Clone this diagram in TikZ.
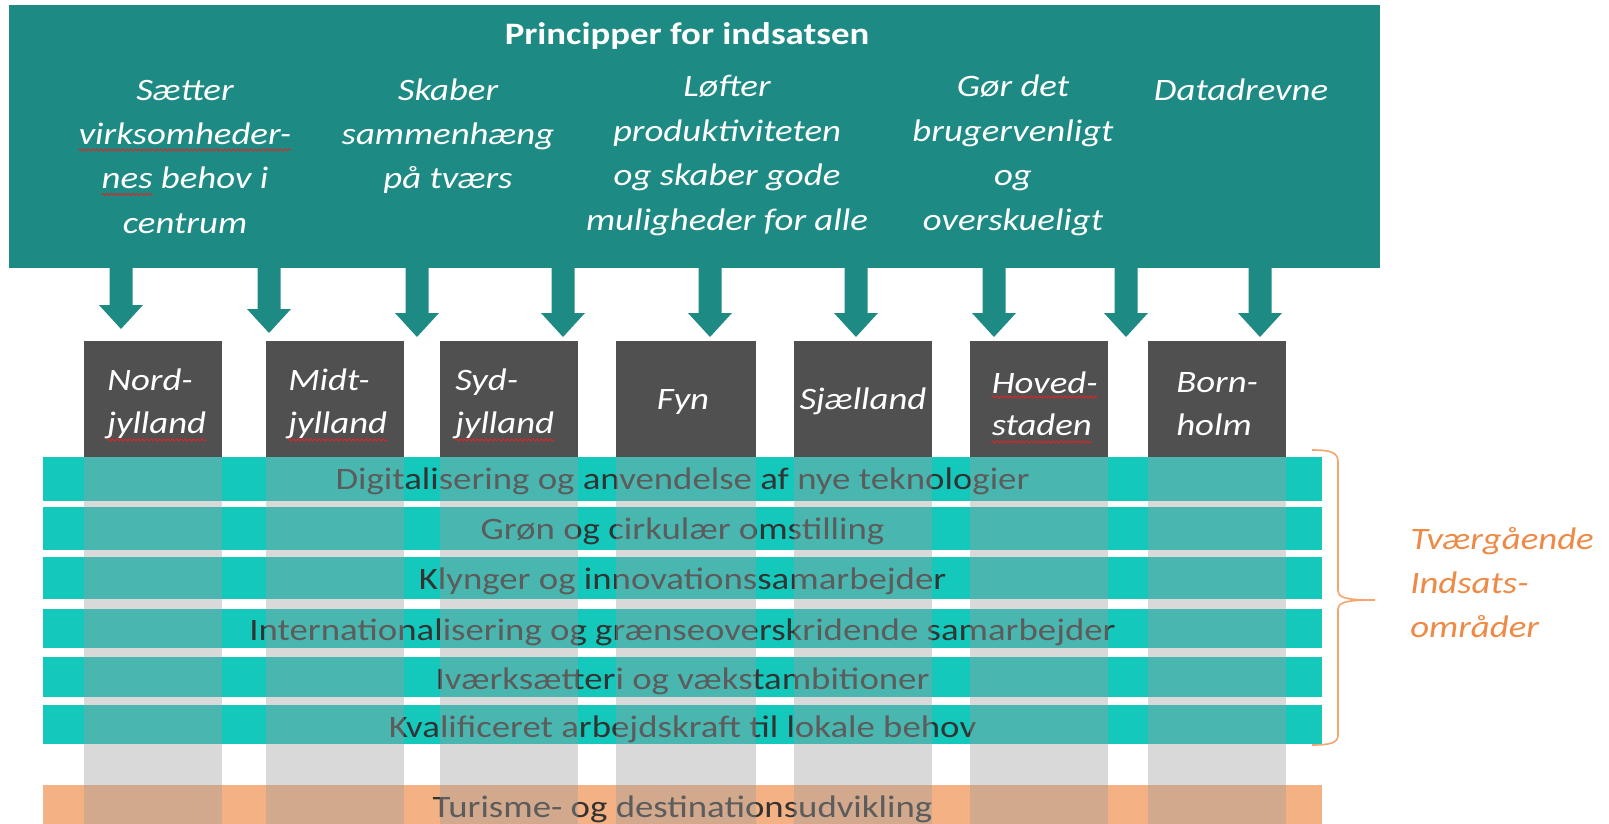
\documentclass[tikz,border=0pt]{standalone}
\usepackage{fontspec}
\setmainfont{Carlito}[FakeStretch=1.18]
\usetikzlibrary{decorations.pathmorphing}
\definecolor{topteal}{HTML}{1E8A84}
\definecolor{boxgray}{HTML}{505050}
\definecolor{bandteal}{HTML}{14C9BC}
\definecolor{bandorange}{HTML}{F4B183}
\definecolor{colgray}{HTML}{9D9D9D}
\definecolor{bandtext}{HTML}{333333}
\definecolor{braceorange}{HTML}{F5A56D}
\definecolor{labelorange}{HTML}{EE8A45}
\definecolor{squigred}{HTML}{E02424}
\newcommand\fsz{\fontsize{23.4pt}{33.4pt}\selectfont}
\tikzset{
  principle/.style={font=\fsz\itshape, text=white, inner sep=0pt, anchor=base},
  regionl/.style={font=\fsz\itshape, text=white, inner sep=0pt, anchor=base west},
  regionc/.style={font=\fsz\itshape, text=white, inner sep=0pt, anchor=base},
  bandtxt/.style={font=\fsz, text=bandtext, inner sep=0pt, anchor=base},
  labeltxt/.style={font=\fsz\itshape, text=labelorange, inner sep=0pt, anchor=base west},
  squig/.style={draw=squigred, line width=0.65pt, decorate, decoration={snake, amplitude=0.8pt, segment length=3.2pt}},
  blockarrow/.style={fill=topteal}
}
\begin{document}
\begin{tikzpicture}[x=0.75pt,y=-0.75pt]
\useasboundingbox (0,0) rectangle (1609,824);
% bands
\foreach \t/\bt in {457/501,507/550,557/599,609/648,657/697,705/744}
  \fill[bandteal] (43,\t) rectangle (1322,\bt);
\fill[bandorange] (43,785) rectangle (1322,830);
% band texts
\node[bandtxt] (b1) at (682.5,489) {Digitalisering og anvendelse af nye teknologier};
\node[bandtxt] (b2) at (682.5,539.5) {Grøn og cirkulær omstilling};
\node[bandtxt] (b3) at (682.5,589) {Klynger og innovationssamarbejder};
\node[bandtxt] (b4) at (682.5,640) {Internationalisering og grænseoverskridende samarbejder};
\node[bandtxt] (b5) at (682.5,689) {Iværksætteri og vækstambitioner};
\node[bandtxt] (b6) at (682.5,737) {Kvalificeret arbejdskraft til lokale behov};
\node[bandtxt] (b7) at (682.5,817) {Turisme- og destinationsudvikling};
% column overlays and region boxes
\foreach \a/\b in {84/222,266/404,440/578,616/756,794/932,970/1108,1148/1286}{
  \fill[colgray, fill opacity=0.39] (\a,457) rectangle (\b,830);
  \fill[boxgray] (\a,341) rectangle (\b,457);
}
% region texts
\node[regionl] (r1a) at (107,390) {Nord-};
\node[regionl] (r1b) at (107,433) {jylland};
\node[regionl] (r2a) at (288,390) {Midt-};
\node[regionl] (r2b) at (288,433) {jylland};
\node[regionl] (r3a) at (455,390) {Syd-};
\node[regionl] (r3b) at (455,433) {jylland};
\node[regionc] (r4) at (683,409) {Fyn};
\node[regionc] (r5) at (863,409) {Sjælland};
\node[regionl] (r6a) at (991.5,393) {Hoved-};
\node[regionl] (r6b) at (991.5,435) {staden};
\node[regionl] (r7a) at (1176,392) {Born-};
\node[regionl] (r7b) at (1176,435) {holm};
\foreach \n in {r1b,r2b,r3b,r6b}
  \draw[squig] ([yshift=-5.2pt]\n.base west) -- ([yshift=-5.2pt]\n.base east);
\draw[squig] ([yshift=-3pt]r6a.base west) -- ([yshift=-3pt]r6a.base east);
% top box
\fill[topteal] (9,5) rectangle (1380,268);
% block arrows
\foreach \c/\tp in {121/329,269/333,417/337,563/337,710/337,856/337,994/337,1126/337,1260/337}
  \fill[blockarrow] (\c-11.5,267) -- (\c-11.5,\tp-24) -- (\c-22,\tp-24) -- (\c,\tp) -- (\c+22,\tp-24) -- (\c+11.5,\tp-24) -- (\c+11.5,267) -- cycle;
% title
\node[font=\fsz\bfseries, text=white, inner sep=0pt, anchor=base] (title) at (687,45) {Principper for indsatsen};
% principles
\node[principle] (p1a) at (185,100) {Sætter};
\node[principle] (p1b) at (185,144.4) {virksomheder-};
\node[principle] (p1c) at (185,188.8) {nes behov i};
\node[principle, anchor=base west] (p1u) at (p1c.base west) {\phantom{nes}};
\node[principle] (p1d) at (185,233.2) {centrum};
\draw[squig] ([yshift=-4.2pt]p1b.base west) -- ([yshift=-4.2pt]p1b.base east);
\draw[squig] ([yshift=-4.2pt]p1u.base west) -- ([yshift=-4.2pt]p1u.base east);
\node[principle] (p2a) at (448,100) {Skaber};
\node[principle] (p2b) at (448,144.4) {sammenhæng};
\node[principle] (p2c) at (448,188.8) {på tværs};
\node[principle] (p3a) at (727,97) {Løfter};
\node[principle] (p3b) at (727,141.4) {produktiviteten};
\node[principle] (p3c) at (727,185.8) {og skaber gode};
\node[principle] (p3d) at (727,230.2) {muligheder for alle};
\node[principle] (p4a) at (1013,97) {Gør det};
\node[principle] (p4b) at (1013,141.4) {brugervenligt};
\node[principle] (p4c) at (1013,185.8) {og};
\node[principle] (p4d) at (1013,230.2) {overskueligt};
\node[principle] (p5a) at (1241,100) {Datadrevne};
% brace
\draw[braceorange, line width=1.2pt] (1312,450) .. controls (1330,450) and (1338,452) .. (1338,462) -- (1338,590) .. controls (1338,598) and (1346,600) .. (1375,600) .. controls (1346,600) and (1338,602) .. (1338,610) -- (1338,735) .. controls (1338,743) and (1330,745) .. (1312,745);
\node[labeltxt] (l1) at (1410,549) {Tværgående};
\node[labeltxt] (l2) at (1410,593) {Indsats-};
\node[labeltxt] (l3) at (1410,637) {områder};
\end{tikzpicture}
\end{document}
